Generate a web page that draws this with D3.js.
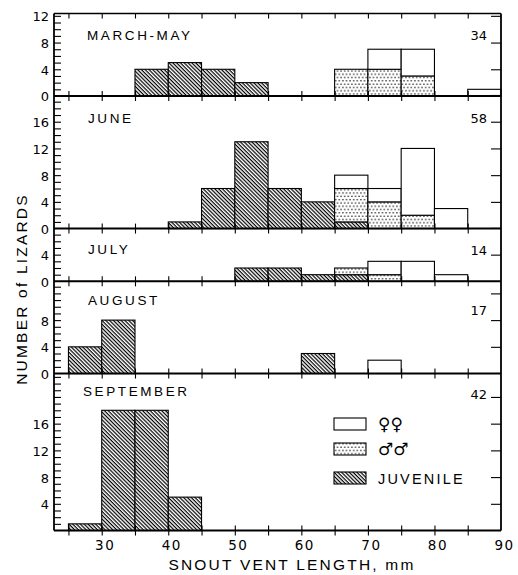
<!DOCTYPE html>
<html><head><meta charset="utf-8">
<script src="https://cdn.jsdelivr.net/npm/d3@7"></script>
<style>
body{margin:0;background:#fff;}
text{fill:#000;}
</style></head>
<body>
<svg id="c" width="518" height="575"></svg>
<script>
// ---- data ----
const binStarts = [25,30,35,40,45,50,55,60,65,70,75,80,85];
const panelNames = ["MARCH-MAY","JUNE","JULY","AUGUST","SEPTEMBER"];
const panelTotals = ["34","58","14","17","42"];
const juvMarMay  = [0,0,4,5,4,2,0,0,0,0,0,0,0];
const maleMarMay = [0,0,0,0,0,0,0,0,4,4,3,0,0];
const femMarMay  = [0,0,0,0,0,0,0,0,0,3,4,0,1];
const juvJune    = [0,0,0,1,6,13,6,4,1,0,0,0,0];
const maleJune   = [0,0,0,0,0,0,0,0,5,4,2,0,0];
const femJune    = [0,0,0,0,0,0,0,0,2,2,10,3,0];
const juvJuly    = [0,0,0,0,0,2,2,1,1,0,0,0,0];
const maleJuly   = [0,0,0,0,0,0,0,0,1,1,0,0,0];
const femJuly    = [0,0,0,0,0,0,0,0,0,2,3,1,0];
const juvAug     = [4,8,0,0,0,0,0,3,0,0,0,0,0];
const maleAug    = [0,0,0,0,0,0,0,0,0,0,0,0,0];
const femAug     = [0,0,0,0,0,0,0,0,0,2,0,0,0];
const juvSep     = [1,18,18,5,0,0,0,0,0,0,0,0,0];
const maleSep    = [0,0,0,0,0,0,0,0,0,0,0,0,0];
const femSep     = [0,0,0,0,0,0,0,0,0,0,0,0,0];
const yLabelTicks = [[0,4,8,12],[0,4,8,12,16],[0,4],[0,4,8],[4,8,12,16]];
const xLabelTicks = [30,40,50,60,70,80,90];
const xMinorTicks = [25,30,35,40,45,50,55,60,65,70,75,80,85];
const legendLabels = ["\u2640\u2640","\u2642\u2642","JUVENILE"];

const juvenile = [juvMarMay,juvJune,juvJuly,juvAug,juvSep];
const males = [maleMarMay,maleJune,maleJuly,maleAug,maleSep];
const females = [femMarMay,femJune,femJuly,femAug,femSep];

// ---- layout ----
const yMax = [12.35,19.85,7.9,13.8,23.5];
const pxPerUnit = 6.68;
const left = 54, right = 501, top0 = 13.5;
const titleOff = [26.5,27,25,23.5,22.5];
const totalOff = [26.5,27,26,34,25];
const svg = d3.select("#c");
const x = d3.scaleLinear().domain([22.83,90]).range([left,right]);

const defs = svg.append("defs");
const hatch = defs.append("pattern").attr("id","hatch").attr("patternUnits","userSpaceOnUse")
  .attr("width",2.7).attr("height",2.7).attr("patternTransform","rotate(45)");
hatch.append("rect").attr("width",2.7).attr("height",2.7).attr("fill","#fff");
hatch.append("rect").attr("width",2.7).attr("height",1.2).attr("fill","#000");
const dots = defs.append("pattern").attr("id","dots").attr("patternUnits","userSpaceOnUse")
  .attr("width",3.6).attr("height",6.6);
dots.append("rect").attr("width",3.6).attr("height",6.6).attr("fill","#fff");
dots.append("circle").attr("cx",0.9).attr("cy",1.6).attr("r",0.75).attr("fill","#000");
dots.append("circle").attr("cx",2.7).attr("cy",4.9).attr("r",0.75).attr("fill","#000");

const fontNum = "'DejaVu Sans', sans-serif";
const fontTxt = "'Liberation Sans', Arial, sans-serif";

let curTop = top0;
const panels = [];
yMax.forEach((m,i)=>{
  const base = curTop + m*pxPerUnit;
  panels.push({top:curTop, base, m});
  curTop = base;
});

panels.forEach((p,i)=>{
  const y = d3.scaleLinear().domain([0,p.m]).range([p.base,p.top]);
  const g = svg.append("g");
  // bars
  const rows = binStarts.map((b,k)=>({b, j:juvenile[i][k], ma:males[i][k], f:females[i][k]}));
  rows.forEach(r=>{
    const x0 = x(r.b), x1 = x(r.b+5);
    const segs = [[0,r.j,"url(#hatch)"],[r.j,r.j+r.ma,"url(#dots)"],[r.j+r.ma,r.j+r.ma+r.f,"#fff"]];
    segs.forEach(s=>{
      if(s[1]>s[0]){
        g.append("rect").attr("x",x0).attr("width",x1-x0)
          .attr("y",y(s[1])).attr("height",y(s[0])-y(s[1]))
          .attr("fill",s[2]).attr("stroke","#000").attr("stroke-width",1.1);
      }
    });
  });
  // left minor ticks
  const ints = d3.range(1, Math.floor(p.m)+1);
  const la = g.append("g").attr("transform",`translate(${left},0)`)
    .call(d3.axisRight(y).tickValues(ints).tickSize(7).tickFormat(""));
  la.select(".domain").remove();
  la.selectAll("line").attr("stroke-width",1.1);
  // left labels
  const ll = g.append("g").attr("transform",`translate(${left},0)`)
    .call(d3.axisLeft(y).tickValues(yLabelTicks[i]).tickSize(0).tickPadding(5));
  ll.select(".domain").remove();
  ll.selectAll("text").attr("font-family",fontNum).attr("font-size",13).attr("dy","0.38em");
  // right ticks
  const r4 = d3.range(4, p.m+0.3, 4);
  const ra = g.append("g").attr("transform",`translate(${right},0)`)
    .call(d3.axisLeft(y).tickValues(r4).tickSize(10).tickFormat(""));
  ra.select(".domain").remove();
  ra.selectAll("line").attr("stroke-width",1.1);
  // baseline ticks crossing
  const bt = g.append("g").attr("transform",`translate(0,${p.base})`)
    .call(d3.axisBottom(x).tickValues(xMinorTicks).tickSize(5).tickFormat(""));
  bt.select(".domain").remove();
  bt.selectAll("line").attr("stroke-width",1.1);
  const bt2 = g.append("g").attr("transform",`translate(0,${p.base})`)
    .call(d3.axisTop(x).tickValues(xMinorTicks).tickSize(5).tickFormat(""));
  bt2.select(".domain").remove();
  bt2.selectAll("line").attr("stroke-width",1.1);
  // baseline
  g.append("line").attr("x1",left).attr("x2",right).attr("y1",p.base).attr("y2",p.base)
    .attr("stroke","#000").attr("stroke-width",2);
  // titles
  g.append("text").attr("x", i===4?83:i===0?87:88).attr("y",p.top+titleOff[i])
    .attr("font-family",fontTxt).attr("font-size",13.5).attr("letter-spacing",2.6)
    .text(panelNames[i]);
  g.append("text").attr("x",487).attr("y",p.top+totalOff[i])
    .attr("text-anchor","end").attr("font-family",fontNum).attr("font-size",13)
    .text(panelTotals[i]);
});

// top ticks
const tt = svg.append("g").attr("transform",`translate(0,${top0})`)
  .call(d3.axisBottom(x).tickValues(xMinorTicks).tickSize(5).tickFormat(""));
tt.select(".domain").remove();
tt.selectAll("line").attr("stroke-width",1.1);

// frame
svg.append("line").attr("x1",left).attr("x2",right).attr("y1",top0).attr("y2",top0).attr("stroke","#000").attr("stroke-width",1.5);
svg.append("line").attr("x1",left).attr("x2",left).attr("y1",top0).attr("y2",panels[4].base).attr("stroke","#000").attr("stroke-width",1.8);
svg.append("line").attr("x1",right).attr("x2",right).attr("y1",top0).attr("y2",panels[4].base).attr("stroke","#000").attr("stroke-width",1.8);

// bottom labels
const bl = svg.append("g").attr("transform",`translate(0,${panels[4].base})`)
  .call(d3.axisBottom(x).tickValues(xLabelTicks).tickSize(0).tickPadding(10));
bl.select(".domain").remove();
bl.selectAll("text").attr("font-family",fontNum).attr("font-size",13.5).attr("letter-spacing",1.5).attr("dx",3);

svg.append("text").attr("x",292).attr("y",570).attr("text-anchor","middle")
  .attr("font-family",fontTxt).attr("font-size",15.5).attr("letter-spacing",2.2)
  .text("SNOUT VENT LENGTH, mm");
svg.append("text").attr("transform","translate(27,289) rotate(-90)").attr("text-anchor","middle")
  .attr("font-family",fontTxt).attr("font-size",15.5).attr("letter-spacing",2.2)
  .text("NUMBER of LIZARDS");

// legend
const legFills = ["#fff","url(#dots)","url(#hatch)"];
const legY = [418,443,472];
legFills.forEach((f,k)=>{
  svg.append("rect").attr("x",334).attr("y",legY[k]).attr("width",32).attr("height",12)
    .attr("fill",f).attr("stroke","#000").attr("stroke-width",1.1);
  svg.append("text").attr("x",378).attr("y",legY[k]+11.5)
    .attr("font-family", k<2 ? fontNum : fontTxt).attr("font-size", k<2?17:14.5)
    .attr("letter-spacing", k<2?0:2.2).text(legendLabels[k]);
});
</script>
</body></html>
